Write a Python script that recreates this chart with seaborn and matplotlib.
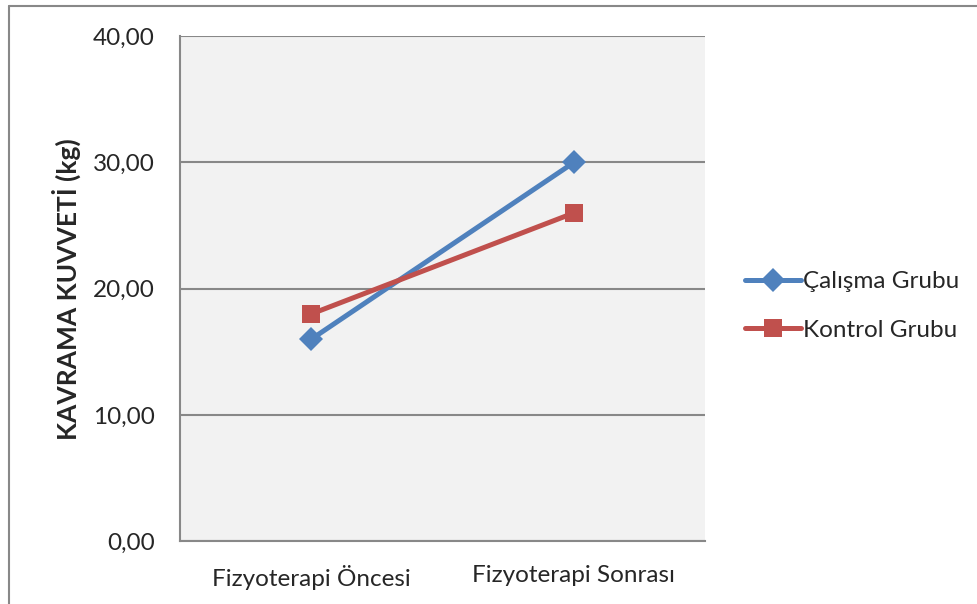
import numpy as np
import pandas as pd
import matplotlib
matplotlib.use('Agg')
import matplotlib.pyplot as plt
import seaborn as sns

# data
categories = ['Fizyoterapi Öncesi', 'Fizyoterapi Sonrası']
groups = ['Çalışma Grubu', 'Kontrol Grubu']
calisma = [16.0, 30.0]
kontrol = [18.0, 26.0]
yticks = [0, 10, 20, 30, 40]

df = pd.DataFrame({
    'Zaman': categories * 2,
    'Deger': calisma + kontrol,
    'Grup': [groups[0]] * 2 + [groups[1]] * 2,
})

sns.set_theme(style='white')
plt.rcParams['font.family'] = ['Lato', 'DejaVu Sans']

fig = plt.figure(figsize=(9.78, 6.04), dpi=100)
ax = fig.add_axes([0.184, 0.104, 0.537, 0.836])

palette = {groups[0]: '#4F81BD', groups[1]: '#C0504D'}
markers = {groups[0]: 'D', groups[1]: 's'}
sns.lineplot(data=df, x='Zaman', y='Deger', hue='Grup', style='Grup',
             palette=palette, markers=markers, dashes=False,
             linewidth=3.6, markersize=12.5, markeredgewidth=0, ax=ax)

ax.set_facecolor('#F2F2F2')
ax.set_xlim(-0.5, 1.5)
ax.set_ylim(0, 40)
ax.set_yticks(yticks)
ax.set_yticklabels([f'{v:.2f}'.replace('.', ',') for v in yticks], fontsize=17.5)
ax.tick_params(axis='x', labelsize=17.5, pad=17, length=0)
ax.tick_params(axis='y', pad=18, length=0)
ax.yaxis.grid(True, color='#888888', linewidth=1.5)
ax.set_axisbelow(True)
for s in ['top', 'right']:
    ax.spines[s].set_visible(False)
for s in ['left', 'bottom']:
    ax.spines[s].set_color('#888888')
    ax.spines[s].set_linewidth(1.5)

ax.set_xlabel('')
ax.set_ylabel('KAVRAMA KUVVETİ (kg)', fontsize=19, fontweight='bold', labelpad=9)

leg = ax.legend(loc='center left', bbox_to_anchor=(1.076, 0.466), frameon=False,
                fontsize=17.5, handlelength=2.3, handletextpad=0.1,
                labelspacing=1.12, borderpad=0, borderaxespad=0)
for h in leg.legend_handles:
    h.set_linewidth(3.6)

# outer chart border (top and left visible)
fig.add_artist(plt.Line2D([0.0092, 1.0], [0.990, 0.990], color='#888888', lw=1.5))
fig.add_artist(plt.Line2D([0.0092, 0.0092], [0.0, 0.990], color='#888888', lw=1.5))

fig.savefig('out.png', dpi=100)
